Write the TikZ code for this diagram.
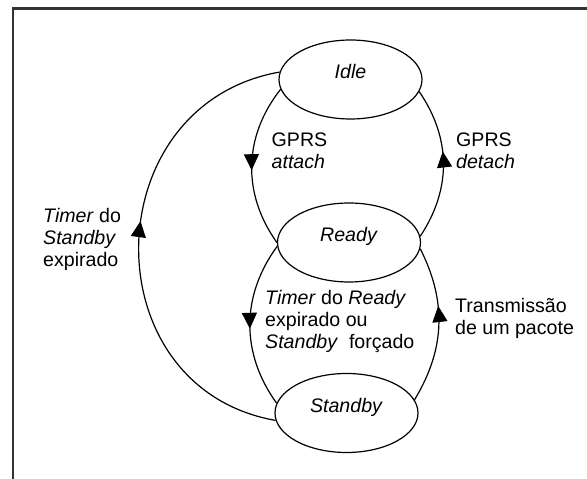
\documentclass[tikz,border=0pt]{standalone}
\usepackage{fontspec}
\setmainfont{Liberation Sans}
\usetikzlibrary{shapes.geometric,arrows.meta,decorations.markings}
\newcommand\lblfont{\fontsize{19.6}{22}\selectfont}
\tikzset{
  state/.style={ellipse, draw, line width=1.2pt, minimum width=143pt, minimum height=79pt, inner sep=0pt},
  stxt/.style={anchor=base, inner sep=0pt, font=\lblfont, yshift=0.5pt},
  tr/.style={line width=1.2pt, postaction={decorate},
    decoration={markings, mark=at position #1 with {\arrow{Triangle[width=15pt,length=16pt]}}}},
  lbl/.style={anchor=base west, inner sep=0pt, font=\lblfont},
  frame/.style={line width=2.5pt, draw=black!80}
}
\begin{document}
\begin{tikzpicture}[x=1pt,y=1pt]
\useasboundingbox (0,0) rectangle (587,479);
\coordinate (fb) at (13,0);
\coordinate (fc) at (13,470.5);
\coordinate (fr) at (587,470.5);
\draw[frame] (fb) -- (fc) -- (fr);

\node[state] (idle) at (350.5,399.5) {};
\node[state] (ready) at (349,236.5) {};
\node[state] (standby) at (346.5,66) {};
\node[stxt] (idle-t) at (idle.center) {\textit{Idle}};
\node[stxt] (ready-t) at (ready.center) {\textit{Ready}};
\node[stxt] (standby-t) at (standby.center) {\textit{Standby}};

\draw[tr=0.53] (idle.188) to[bend right=37] (ready.180);
\draw[tr=0.58] (ready.5) to[bend right=34] (idle.350);
\draw[tr=0.525] (ready.183) to[bend right=36] (standby.172);
\draw[tr=0.62] (standby.11) to[bend right=29] (ready.355);
\draw[tr=0.55] (standby.186) to[out=170,in=190,looseness=1.38] (idle.174);

\node[lbl] (l-attach) at (271.5,332) {\begin{tabular}[t]{@{}l@{}}GPRS\\\textit{attach}\end{tabular}};
\node[lbl] (l-detach) at (456,332) {\begin{tabular}[t]{@{}l@{}}GPRS\\\textit{detach}\end{tabular}};
\node[lbl] (l-tstandby) at (43,256) {\begin{tabular}[t]{@{}l@{}}\textit{Timer} do\\\textit{Standby}\\expirado\end{tabular}};
\node[lbl] (l-tready) at (265,174) {\begin{tabular}[t]{@{}l@{}}\textit{Timer} do \textit{Ready}\\expirado ou\\\textit{Standby}\ \ forçado\end{tabular}};
\node[lbl] (l-trans) at (455,166) {\begin{tabular}[t]{@{}l@{}}Transmissão\\de um pacote\end{tabular}};
\end{tikzpicture}
\end{document}
